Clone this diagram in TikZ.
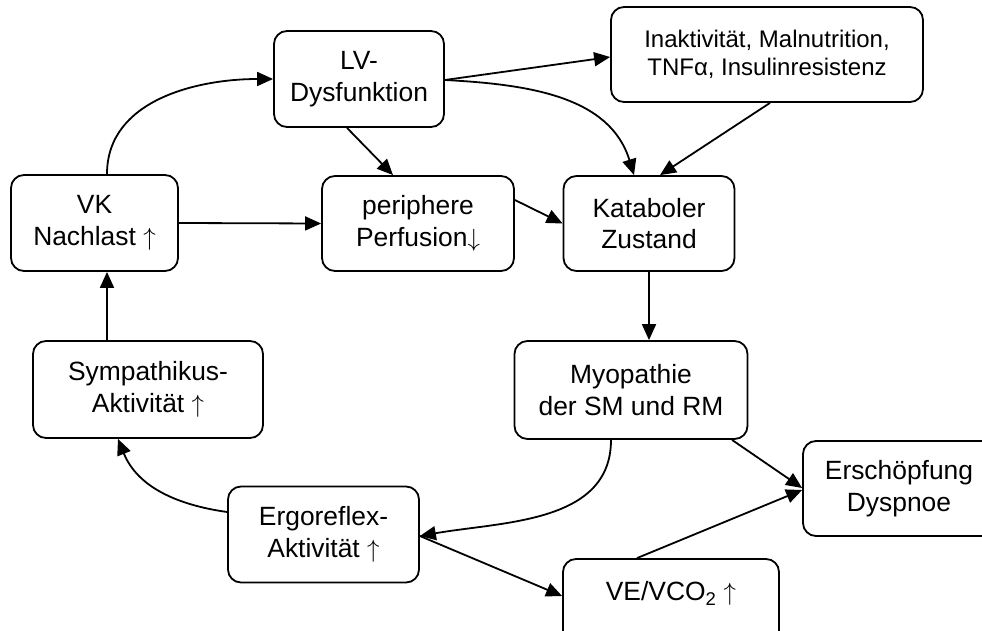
\documentclass[tikz,border=0pt]{standalone}
\usepackage{fontspec}
\setmainfont{Liberation Sans}
\usetikzlibrary{arrows.meta,calc}
\tikzset{
  box/.style={draw, line width=1.8pt, rounded corners=13pt, align=center, inner sep=0pt,
    font=\fontsize{26.4}{31.7}\selectfont},
  conn/.style={line width=1.8pt, -{Triangle[length=16pt,width=14pt]}},
  plain/.style={line width=1.8pt}
}
\newcommand{\myup}{\ensuremath{\uparrow}}
\newcommand{\mydown}{\ensuremath{\downarrow}}
\begin{document}
\begin{tikzpicture}[x=1pt,y=1pt]
\useasboundingbox (0,0) rectangle (982,630);
\clip (0,0) rectangle (982,630);
% nodes
\node[box, minimum width=170pt, minimum height=96pt] (lv) at (359,551) {LV-\\Dysfunktion};
\node[box, minimum width=312pt, minimum height=95pt, font=\fontsize{24}{27.7}\selectfont] (ina) at (767,575.5) {Inaktivität, Malnutrition,\\TNFα, Insulinresistenz};
\node[box, minimum width=167pt, minimum height=96pt] (vk) at (94.5,407) {VK\\Nachlast \myup};
\node[box, minimum width=192pt, minimum height=95pt] (per) at (418,406.5) {periphere\\Perfusion\mydown};
\node[box, minimum width=171pt, minimum height=95pt] (kat) at (649,406.5) {Kataboler\\Zustand};
\node[box, minimum width=230pt, minimum height=97pt] (symp) at (148,240.5) {Sympathikus-\\Aktivität \myup};
\node[box, minimum width=233pt, minimum height=98pt] (myo) at (631,240) {Myopathie\\der SM und RM};
\node[box, minimum width=192pt, minimum height=95pt] (ersch) at (899,141.5) {Erschöpfung\\Dyspnoe};
\node[box, minimum width=191pt, minimum height=96pt] (ergo) at (323.5,95.5) {Ergoreflex-\\Aktivität \myup};
\node[box, minimum width=216pt, minimum height=96pt] (ve) at (671,23) {VE/VCO\textsubscript{2} \myup\\\mbox{}};
% connectors
\draw[conn] ([xshift=12.5pt]vk.north) to[out=90,in=180] (lv.west);
\draw[conn] ([yshift=-1pt]lv.east) -- ([yshift=-2.5pt]ina.west);
\draw[conn] ([yshift=-1pt]lv.east) to[out=-3,in=107] ([xshift=-15pt]kat.north);
\draw[conn] ([xshift=3pt]ina.south) -- ([xshift=11pt]kat.north);
\draw[conn] ([xshift=-12pt]lv.south) -- ([xshift=-25pt]per.north);
\draw[conn] (vk.east) -- (per.west);
\draw[conn] ([yshift=23.5pt]per.east) -- (kat.west);
\draw[conn] (kat.south) -- (kat.south |- myo.north);
\draw[conn] ([xshift=-20pt]myo.south) to[out=-90,in=10] ([yshift=-1.5pt]ergo.east);
\draw[conn] ([xshift=101pt]myo.south) -- ([yshift=0.5pt]ersch.west);
\draw[conn] ([yshift=-1.5pt]ergo.east) -- ([yshift=11pt]ve.west);
\draw[conn] ([xshift=-34pt]ve.north) -- ([yshift=-1.5pt]ersch.west);
\draw[conn] ([yshift=22.5pt]ergo.west) to[out=172,in=-68] ([xshift=-30pt]symp.south);
\draw[conn] ([xshift=12.5pt]vk.south |- symp.north) -- ([xshift=12.5pt]vk.south);
\end{tikzpicture}
\end{document}
